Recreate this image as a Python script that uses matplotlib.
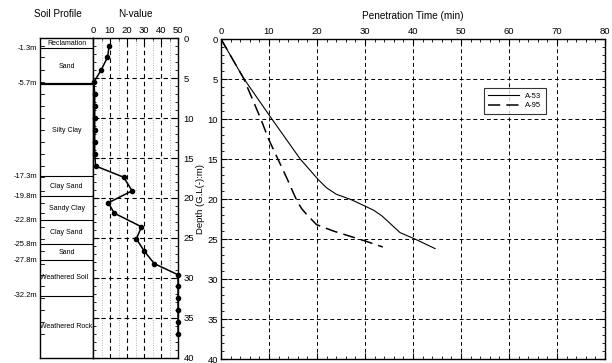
import matplotlib.pyplot as plt
from matplotlib.ticker import MultipleLocator

plt.rcParams['font.family'] = ['Liberation Sans', 'DejaVu Sans']

# soil profile
layer_bottoms = [1.3, 5.7, 17.3, 19.8, 22.8, 25.8, 27.8, 32.2, 40.0]
layer_names = ["Reclamation", "Sand", "Silty Clay", "Clay Sand", "Sandy Clay",
               "Clay Sand", "Sand", "Weathered Soil", "Weathered Rock"]
boundary_labels = ["-1.3m", "-5.7m", "-17.3m", "-19.8m", "-22.8m",
                   "-25.8m", "-27.8m", "-32.2m"]

# SPT N-value
spt_depth = [1.0, 2.4, 4.0, 5.5, 7.0, 8.5, 10.0, 11.5, 13.0, 14.5, 16.0,
             17.4, 19.1, 20.6, 21.9, 23.6, 25.1, 26.6, 28.2, 29.6,
             31.0, 32.5, 34.0, 35.5, 37.0]
spt_n = [9.5, 8.5, 4.8, 0.5, 1, 1, 1, 1, 1, 1, 1.5,
         18, 23, 9, 12.5, 28.5, 25.5, 30, 36, 50,
         50, 50, 50, 50, 50]

# penetration time
a53_time = [0, 4.7, 10.6, 16.5, 20.3, 22.0, 24.0, 27.2, 29.7, 31.8, 33.5,
            35.5, 37.3, 40.4, 44.6]
a53_depth = [0, 4.9, 10.0, 15.0, 17.6, 18.6, 19.4, 20.1, 20.8, 21.4, 22.1,
             23.2, 24.2, 25.0, 26.2]
a95_time = [0, 4.7, 8.3, 9.9, 13.8, 14.9, 15.8, 16.8, 17.8, 19.9, 23.4,
            30.3, 33.7]
a95_depth = [0, 4.9, 10.0, 12.5, 17.5, 19.0, 20.2, 21.2, 21.9, 23.2, 24.0,
             25.3, 26.0]

fig = plt.figure(figsize=(6.12, 3.63), dpi=100)
fs = 6.8

# --- soil profile column ---
ax_p = fig.add_axes([0.0654, 0.0138, 0.0866, 0.8815])
ax_p.set_xlim(0, 1)
ax_p.set_ylim(40, 0)
ax_p.set_xticks([])
ax_p.set_yticks([])
for s in ax_p.spines.values():
    s.set_linewidth(1.0)
top = 0
for bot, name in zip(layer_bottoms, layer_names):
    mid = (top + bot) / 2
    if name.startswith("Weathered"):
        ax_p.text(0.0, mid, name, ha="left", va="center", fontsize=5)
    else:
        ax_p.text(0.5, mid, name, ha="center", va="center", fontsize=5)
    top = bot
for d, lab in zip(layer_bottoms[:-1], boundary_labels):
    lw = 1.6 if lab == "-5.7m" else 0.8
    ax_p.plot([0, 1], [d, d], color="black", lw=lw)
    ax_p.text(-0.05, d, lab, ha="right", va="center", fontsize=5.5)
for d in spt_depth:
    ax_p.plot([0, 0.08], [d, d], color="black", lw=0.6)

fig.text(0.094, 0.961, "Soil Profile", ha="center", va="center", fontsize=7.2)
fig.text(0.221, 0.961, "N-value", ha="center", va="center", fontsize=7.2)

# --- N-value ---
ax_n = fig.add_axes([0.152, 0.0138, 0.1389, 0.8815])
ax_n.set_xlim(0, 50)
ax_n.set_ylim(40, 0)
for x in [5, 15, 25, 35, 45]:
    ax_n.axvline(x, color="0.6", ls=(0, (1, 2)), lw=0.6)
for x in [10, 20, 30, 40]:
    ax_n.axvline(x, color="black", ls=(0, (4, 3)), lw=0.8)
for y in [5, 10, 15, 20, 25, 30, 35]:
    ax_n.axhline(y, color="black", ls=(0, (4, 3)), lw=0.8)
ax_n.plot(spt_n, spt_depth, color="black", lw=1.1, marker="o", ms=3,
          clip_on=False, zorder=5)
ax_n.xaxis.tick_top()
ax_n.set_xticks([0, 10, 20, 30, 40, 50])
ax_n.xaxis.set_minor_locator(MultipleLocator(5))
ax_n.yaxis.tick_right()
ax_n.set_yticks(range(0, 41, 5))
ax_n.yaxis.set_minor_locator(MultipleLocator(1))
ax_n.tick_params(which="both", direction="in", labelsize=fs, pad=2)
ax_n.tick_params(axis="y", pad=4)
ax_n.tick_params(which="major", length=4)
ax_n.tick_params(which="minor", length=2)
ax_n.tick_params(axis="y", which="both", left=True)
for s in ax_n.spines.values():
    s.set_linewidth(1.0)

# --- penetration time ---
ax = fig.add_axes([0.3611, 0.011, 0.6275, 0.8815])
ax.set_xlim(0, 80)
ax.set_ylim(40, 0)
ax.grid(True, which="major", color="black", ls=(0, (4, 3)), lw=0.7)
ax.plot(a53_time, a53_depth, color="black", lw=0.8, label="A-53")
ax.plot(a95_time, a95_depth, color="black", lw=1.1, ls=(0, (8, 4)), label="A-95")
ax.xaxis.tick_top()
ax.xaxis.set_label_position("top")
ax.set_xticks(range(0, 81, 10))
ax.xaxis.set_minor_locator(MultipleLocator(2))
ax.set_yticks(range(0, 41, 5))
ax.yaxis.set_minor_locator(MultipleLocator(1))
ax.tick_params(which="both", direction="in", labelsize=fs, pad=2,
               top=True, bottom=True, left=True, right=True)
ax.tick_params(which="major", length=4)
ax.tick_params(which="minor", length=2)
for s in ax.spines.values():
    s.set_linewidth(1.0)
ax.set_xlabel("Penetration Time (min)", fontsize=7.2, labelpad=6)
ax.set_ylabel("Depth (G.L(-):m)", fontsize=6.8, labelpad=2)
leg = ax.legend(loc="upper right", bbox_to_anchor=(0.855, 0.86), fontsize=5.5,
                frameon=True, fancybox=False, edgecolor="black",
                handlelength=4, borderpad=0.6, labelspacing=0.3)
leg.get_frame().set_linewidth(0.8)

fig.savefig("out.png", dpi=100)
